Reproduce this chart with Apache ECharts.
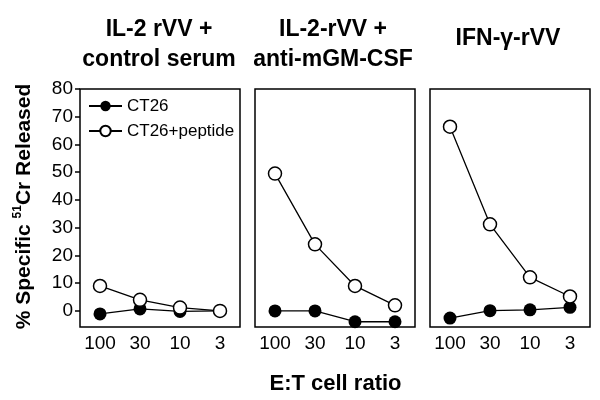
<!DOCTYPE html>
<html><head><meta charset="utf-8">
<script src="https://cdn.jsdelivr.net/npm/echarts@6/dist/echarts.min.js"></script>
<style>html,body{margin:0;padding:0;background:#fff}#c{width:600px;height:400px}</style>
</head><body><div id="c"></div>
<script>
const categories = ['100', '30', '10', '3'];
const panelTitles = ['IL-2 rVV +\ncontrol serum', 'IL-2-rVV +\nanti-mGM-CSF', 'IFN-γ-rVV'];
const seriesNames = ['CT26', 'CT26+peptide'];
const ct26 = [
  [-1.1, 0.7, -0.2, 0],
  [0, 0, -3.9, -3.9],
  [-2.6, 0.1, 0.4, 1.3]
];
const ct26Peptide = [
  [9, 4, 1.2, 0],
  [49.5, 24, 9, 2],
  [66.4, 31.2, 12.1, 5.2]
];
const yTicks = [0, 10, 20, 30, 40, 50, 60, 70, 80];
const yLabel = '% Specific {sup|51}Cr Released';
const xLabel = 'E:T cell ratio';

const FONT = 'Liberation Sans, Arial, sans-serif';
const lefts = [80, 255, 430];
const titleX = [159, 333, 508];
const titleY = [44.5, 44.5, 38.5];

const grid = [], xAxis = [], yAxis = [], series = [], graphic = [];
lefts.forEach((l, i) => {
  grid.push({left: l, top: 89, width: 160, height: 238, show: true,
    borderColor: '#000', borderWidth: 1.5, backgroundColor: 'transparent'});
  xAxis.push({type: 'category', gridIndex: i, data: categories,
    axisLine: {show: false, onZero: false}, axisTick: {show: false},
    axisLabel: {interval: 0, hideOverlap: false, fontSize: 19, color: '#000', margin: 7, fontFamily: FONT}});
  yAxis.push({type: 'value', gridIndex: i, min: -5.8, max: 80,
    splitLine: {show: false}, axisLine: {show: false},
    axisTick: {show: i === 0, customValues: yTicks, length: 5, lineStyle: {color: '#000', width: 1.5}},
    axisLabel: {show: i === 0, customValues: yTicks, fontSize: 19, color: '#000', margin: 7, fontFamily: FONT}});
  series.push({type: 'line', name: seriesNames[0], xAxisIndex: i, yAxisIndex: i, data: ct26[i],
    symbol: 'circle', symbolSize: 13, lineStyle: {color: '#000', width: 1.3},
    itemStyle: {color: '#000'}, emphasis: {disabled: true}, z: 2});
  series.push({type: 'line', name: seriesNames[1], xAxisIndex: i, yAxisIndex: i, data: ct26Peptide[i],
    symbol: 'circle', symbolSize: 13, lineStyle: {color: '#000', width: 1.3},
    itemStyle: {color: '#fff', borderColor: '#000', borderWidth: 1.5}, emphasis: {disabled: true}, z: 3});
  graphic.push({type: 'text', x: titleX[i], y: titleY[i],
    style: {text: panelTitles[i], fill: '#000', font: 'bold 23px ' + FONT, lineHeight: 30,
      align: 'center', verticalAlign: 'middle'}});
});
graphic.push({type: 'text', x: 24, y: 206.5, rotation: Math.PI / 2,
  style: {text: yLabel, fill: '#000', fontSize: 21, fontWeight: 'bold', fontFamily: FONT,
    lineHeight: 24, align: 'center', verticalAlign: 'middle',
    rich: {sup: {fontSize: 12, fontWeight: 'bold', fontFamily: FONT, fill: '#000', lineHeight: 12, verticalAlign: 'top'}}}});
graphic.push({type: 'text', x: 335.5, y: 384.4,
  style: {text: xLabel, fill: '#000', font: 'bold 22px ' + FONT, align: 'center', verticalAlign: 'middle'}});

const chart = echarts.init(document.getElementById('c'));
chart.setOption({
  animation: false,
  backgroundColor: '#fff',
  grid, xAxis, yAxis, series, graphic,
  legend: {data: seriesNames, orient: 'vertical', left: 88, top: 97.5, padding: 0,
    itemWidth: 33, itemHeight: 13, itemGap: 8, selectedMode: false,
    textStyle: {fontSize: 17, lineHeight: 17, color: '#000', fontFamily: FONT}}
});
</script></body></html>
